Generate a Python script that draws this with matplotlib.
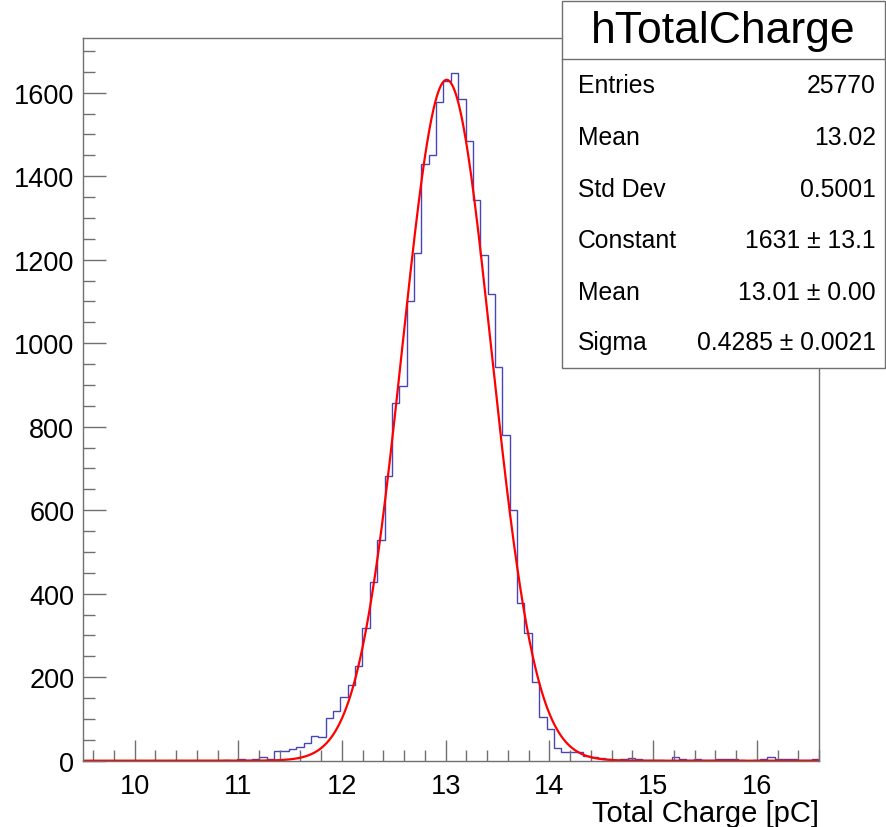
import numpy as np
import matplotlib
matplotlib.use("Agg")
import matplotlib.pyplot as plt
from matplotlib.ticker import MultipleLocator

plt.rcParams['font.family'] = ['Liberation Sans', 'DejaVu Sans']

# Histogram: 100 bins from 9.5 to 16.6
x_min, x_max, n_bins = 9.5, 16.6, 100
counts = [0] * 19 + [
    2, 0, 4, 1, 5, 10, 3, 23, 24, 28,
    34, 42, 58, 56, 103, 119, 152, 181, 226, 317,
    429, 528, 681, 856, 898, 1101, 1215, 1430, 1452, 1578,
    1628, 1648, 1586, 1484, 1342, 1211, 1119, 943, 780, 600,
    377, 307, 188, 104, 77, 31, 21, 22, 21, 12,
    10, 6, 4, 1, 4, 6, 5, 2, 1, 1,
    0, 8, 4, 2, 4, 2, 1, 4, 4, 4,
    2, 0, 1, 4, 10, 4, 4, 4, 2, 2,
    4,
]

# Gaussian fit parameters
fit_const, fit_mean, fit_sigma = 1631, 13.01, 0.4285

stats_labels = ["Entries", "Mean", "Std Dev", "Constant", "Mean", "Sigma"]
stats_values = ["25770", "13.02", "0.5001", "1631 \u00b1 13.1",
                "13.01 \u00b1 0.00", "0.4285 \u00b1 0.0021"]

counts = np.array(counts)
edges = np.linspace(x_min, x_max, n_bins + 1)

W, H = 886, 828
fig = plt.figure(figsize=(W / 100, H / 100), dpi=100)
ax = fig.add_axes([82.7 / W, 1 - 761.7 / H, (819 - 82.7) / W, (761.7 - 39.3) / H])

ax.stairs(counts, edges, color="#4646b8", lw=1.0)

xf = np.linspace(x_min, x_max, 1000)
yf = fit_const * np.exp(-0.5 * ((xf - fit_mean) / fit_sigma) ** 2)
ax.plot(xf, yf, color="#ff0000", lw=1.6)

ax.set_xlim(x_min, x_max)
ax.set_ylim(0, 1.05 * counts.max())

frame_col = "#707070"
for side in ["top", "right", "left", "bottom"]:
    ax.spines[side].set_color(frame_col)
    ax.spines[side].set_linewidth(1.0)

ax.xaxis.set_major_locator(MultipleLocator(1))
ax.xaxis.set_minor_locator(MultipleLocator(0.2))
ax.yaxis.set_major_locator(MultipleLocator(200))
ax.yaxis.set_minor_locator(MultipleLocator(50))
ax.tick_params(axis="both", which="both", direction="in", color=frame_col, width=1.0,
               top=False, right=False)
ax.tick_params(axis="x", which="major", length=15, pad=9, labelsize=19.5)
ax.tick_params(axis="x", which="minor", length=7.7)
ax.tick_params(axis="y", which="major", length=16.5, pad=6, labelsize=19.5)
ax.tick_params(axis="y", which="minor", length=8.4)

fig.text(819 / W, 1 - 814 / H, "Total Charge [pC]", ha="right", va="center", fontsize=21)

# Stats box
bx0, bx1, by0, by1, bsep = 561.5, 885, 2, 369, 59.5
box = plt.Rectangle((bx0 / W, 1 - by1 / H), (bx1 - bx0) / W, (by1 - by0) / H,
                    transform=fig.transFigure, facecolor="white",
                    edgecolor=frame_col, lw=1.0, zorder=5)
fig.add_artist(box)
fig.add_artist(plt.Line2D([bx0 / W, bx1 / W], [1 - bsep / H, 1 - bsep / H],
                          transform=fig.transFigure, color=frame_col, lw=1.0, zorder=6))
fig.text((bx0 + bx1) / 2 / W, 1 - 32 / H, "hTotalCharge", ha="center", va="center",
         fontsize=32, zorder=7)
row_y = [86, 138, 190, 241, 293, 343]
for lab, val, yy in zip(stats_labels, stats_values, row_y):
    fig.text(578 / W, 1 - yy / H, lab, ha="left", va="center", fontsize=17.8, zorder=7)
    fig.text(876 / W, 1 - yy / H, val, ha="right", va="center", fontsize=17.8, zorder=7)

fig.savefig("out.png", dpi=100)
